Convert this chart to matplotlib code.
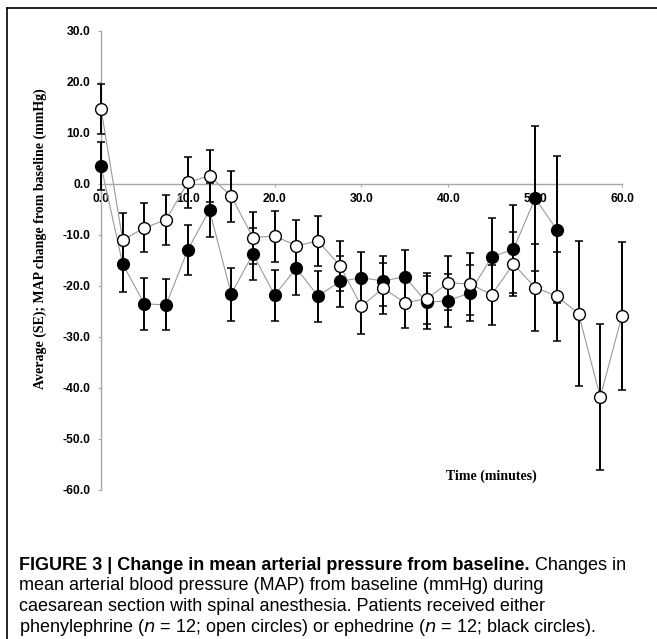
import matplotlib
matplotlib.use("Agg")
import matplotlib.pyplot as plt
from matplotlib.lines import Line2D

# time points (minutes)
time_phe = [0, 2.5, 5, 7.5, 10, 12.5, 15, 17.5, 20, 22.5, 25, 27.5, 30,
            32.5, 35, 37.5, 40, 42.5, 45, 47.5, 50, 52.5, 55, 57.5, 60]
time_eph = [0, 2.5, 5, 7.5, 10, 12.5, 15, 17.5, 20, 22.5, 25, 27.5, 30,
            32.5, 35, 37.5, 40, 42.5, 45, 47.5, 50, 52.5]

# phenylephrine (open circles)
phe_mean = [14.8, -11.0, -8.6, -7.0, 0.3, 1.6, -2.4, -10.5, -10.2, -12.1, -11.2, -16.0, -24.0,
            -20.4, -23.3, -22.5, -19.4, -19.6, -21.7, -15.7, -20.3, -22.0, -25.4, -41.8, -25.8]
phe_se = [4.9, 5.3, 4.8, 4.9, 5.0, 5.1, 5.0, 5.1, 5.0, 5.1, 4.9, 4.9, 5.4,
          5.0, 4.9, 5.0, 5.3, 6.0, 5.9, 6.3, 8.5, 8.7, 14.2, 14.3, 14.5]

# ephedrine (black circles)
eph_mean = [3.6, -15.7, -23.5, -23.7, -12.9, -5.1, -21.6, -13.7, -21.8, -16.5, -22.0, -19.1, -18.4,
            -19.0, -18.2, -23.2, -22.9, -21.3, -14.3, -12.8, -2.8, -9.0]
eph_se = [4.7, 5.5, 5.1, 5.0, 4.9, 5.2, 5.2, 5.1, 5.0, 5.2, 5.0, 5.0, 5.1,
          4.9, 5.2, 5.2, 5.2, 5.5, 7.6, 8.6, 14.2, 14.4]

xticks = [0, 10, 20, 30, 40, 50, 60]
yticks = [30, 20, 10, 0, -10, -20, -30, -40, -50, -60]

fig = plt.figure(figsize=(6.57, 6.39), dpi=100)
ax = fig.add_axes([0.1537, 0.2332, 0.793, 0.7183])

# black series first, open circles drawn on top
for t, m, s, face in [(time_eph, eph_mean, eph_se, "black"),
                      (time_phe, phe_mean, phe_se, "white")]:
    ax.plot(t, m, color="#9a9a9a", lw=0.8, zorder=2, clip_on=False)
    ax.errorbar(t, m, yerr=s, fmt="none", ecolor="black", elinewidth=1.4,
                capsize=2.6, capthick=1.1, zorder=3, clip_on=False)
    ax.plot(t, m, "o", ms=8.5, mfc=face, mec="black", mew=1.0, zorder=4, clip_on=False)

ax.set_xlim(0, 60)
ax.set_ylim(-60, 30)
for side in ["top", "right"]:
    ax.spines[side].set_visible(False)
ax.spines["bottom"].set_position(("data", 0))
ax.spines["bottom"].set_color("#a8a8a8")
ax.spines["left"].set_color("#a8a8a8")
ax.spines["bottom"].set_linewidth(1.0)
ax.spines["left"].set_linewidth(1.0)

ax.set_xticks(xticks)
ax.set_xticklabels([f"{v:.1f}" for v in xticks])
ax.set_yticks(yticks)
ax.set_yticklabels([f"{v:.1f}" for v in yticks])
ax.tick_params(axis="both", length=2.2, width=0.8, color="#a8a8a8", direction="out")
ax.tick_params(axis="x", pad=4.5)
ax.tick_params(axis="y", pad=5.5)
for lab in ax.get_xticklabels() + ax.get_yticklabels():
    lab.set_fontfamily("Liberation Sans")
    lab.set_fontweight("bold")
    lab.set_fontsize(8.7)

ax.text(45, -57.3, "Time (minutes)", ha="center", va="center",
        fontfamily="Liberation Serif", fontweight="bold", fontsize=10)
fig.text(40 / 657, 1 - 239 / 639, "Average (SE); MAP change from baseline (mmHg)",
         rotation=90, ha="center", va="center",
         fontfamily="Liberation Serif", fontweight="bold", fontsize=10)

# frame round the figure panel
fig.add_artist(Line2D([7 / 657, 7 / 657], [0, 1 - 8 / 639], color="black", lw=1.2))
fig.add_artist(Line2D([7 / 657, 1], [1 - 8 / 639, 1 - 8 / 639], color="black", lw=1.2))

# caption
cap_font = "Liberation Sans"
cap_size = 13
x0 = 19 / 657
t1 = fig.text(x0, 1 - 565 / 639, "FIGURE 3 | Change in mean arterial pressure from baseline.",
              fontfamily=cap_font, fontweight="bold", fontsize=cap_size, va="center")
fig.canvas.draw()
bb = t1.get_window_extent()
fig.text(bb.x1 / fig.bbox.width, 1 - 565 / 639, " Changes in",
         fontfamily=cap_font, fontsize=cap_size, va="center")
lines = ["mean arterial blood pressure (MAP) from baseline (mmHg) during",
         "caesarean section with spinal anesthesia. Patients received either",
         r"phenylephrine ($\it{n}$ = 12; open circles) or ephedrine ($\it{n}$ = 12; black circles)."]
for i, line in enumerate(lines):
    fig.text(x0, 1 - (586 + 20.7 * i) / 639, line,
             fontfamily=cap_font, fontsize=cap_size, va="center")

fig.savefig("out.png", dpi=100)
